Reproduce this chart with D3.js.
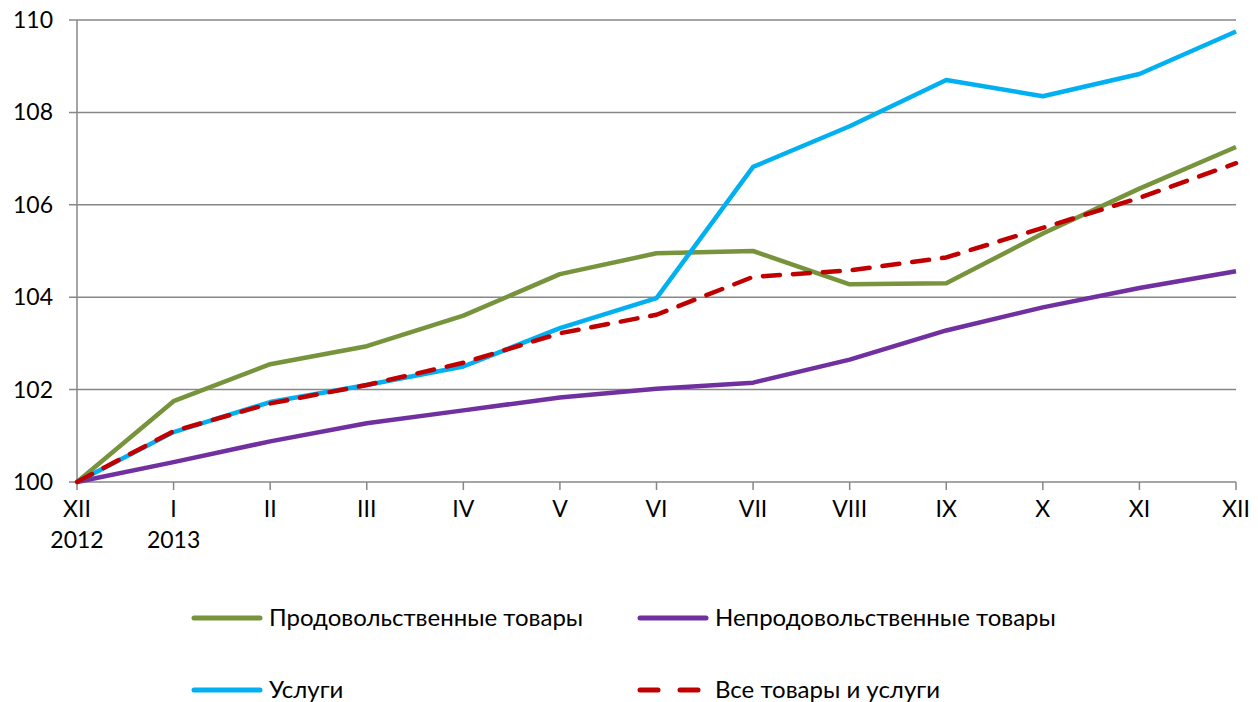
<!DOCTYPE html>
<html><head><meta charset="utf-8">
<script src="https://cdn.jsdelivr.net/npm/d3@7"></script>
<style>body{margin:0;background:#fff}svg{display:block}text{font-family:Lato,"Open Sans",sans-serif;fill:#000}</style>
</head><body><svg id="c" width="1258" height="702"></svg>
<script>
const months = ["XII","I","II","III","IV","V","VI","VII","VIII","IX","X","XI","XII"];
const years = ["2012","2013","","","","","","","","","","",""];
const yTicks = [100,102,104,106,108,110];
const food =    [100,101.75,102.55,102.94,103.6,104.5,104.95,105.0,104.28,104.3,105.38,106.35,107.25];
const nonfood = [100,100.43,100.88,101.27,101.55,101.83,102.02,102.15,102.65,103.28,103.78,104.2,104.56];
const services =[100,101.08,101.73,102.1,102.5,103.33,103.98,106.82,107.7,108.7,108.35,108.83,109.75];
const allGoods =[100,101.1,101.7,102.1,102.58,103.22,103.62,104.44,104.58,104.86,105.5,106.15,106.9];
const seriesNames = ["Продовольственные товары","Непродовольственные товары","Услуги","Все товары и услуги"];

const series = [
  {name:seriesNames[0], values:food, color:"#77933C", dash:null},
  {name:seriesNames[1], values:nonfood, color:"#7030A0", dash:null},
  {name:seriesNames[2], values:services, color:"#00B0F0", dash:null},
  {name:seriesNames[3], values:allGoods, color:"#C00000", dash:"17,13"}
];

const svg = d3.select("#c");
const L=77,R=1236,T=20,B=482;
const x = d3.scaleLinear().domain([0,months.length-1]).range([L,R]);
const y = d3.scaleLinear().domain([100,110]).range([B,T]);
const grid="#878787";
const tickFont=23, legFont=24;

svg.append("g").selectAll("line").data(yTicks).join("line")
  .attr("x1",L-8).attr("x2",R).attr("y1",d=>y(d)).attr("y2",d=>y(d))
  .attr("stroke",grid).attr("stroke-width",1.5);
svg.append("g").selectAll("text").data(yTicks).join("text")
  .attr("x",L-24).attr("y",d=>y(d)).attr("dy","0.35em").attr("text-anchor","end")
  .attr("font-size",tickFont).text(d=>d);
svg.append("line").attr("x1",L).attr("x2",L).attr("y1",T).attr("y2",B).attr("stroke",grid).attr("stroke-width",1.5);
svg.append("g").selectAll("line").data(months).join("line")
  .attr("x1",(d,i)=>x(i)).attr("x2",(d,i)=>x(i)).attr("y1",B).attr("y2",B+8)
  .attr("stroke",grid).attr("stroke-width",1.5);
svg.append("g").selectAll("text").data(months).join("text")
  .attr("x",(d,i)=>x(i)).attr("y",B+27).attr("dy","0.35em").attr("text-anchor","middle")
  .attr("font-size",tickFont).text(d=>d);
svg.append("g").selectAll("text").data(years).join("text")
  .attr("x",(d,i)=>x(i)).attr("y",B+58).attr("dy","0.35em").attr("text-anchor","middle")
  .attr("font-size",tickFont).text(d=>d);

const line = d3.line().x((d,i)=>x(i)).y(d=>y(d));
series.forEach(s=>{
  svg.append("path").attr("d",line(s.values)).attr("fill","none")
    .attr("stroke",s.color).attr("stroke-width",4.5)
    .attr("stroke-linejoin","round")
    .attr("stroke-linecap",s.dash?"round":"butt")
    .attr("stroke-dasharray",s.dash);
});

const legPos=[[192,618],[638,618],[192,690],[638,690]];
series.forEach((s,i)=>{
  const [lx,ly]=legPos[i];
  const g=svg.append("g");
  g.append("line").attr("x1",lx+2).attr("x2",lx+68).attr("y1",ly).attr("y2",ly)
    .attr("stroke",s.color).attr("stroke-width",5).attr("stroke-linecap","round")
    .attr("stroke-dasharray",s.dash?"18,22":null);
  g.append("text").attr("x",lx+77).attr("y",ly).attr("dy","0.35em").attr("font-size",legFont).text(s.name);
});
</script></body></html>
